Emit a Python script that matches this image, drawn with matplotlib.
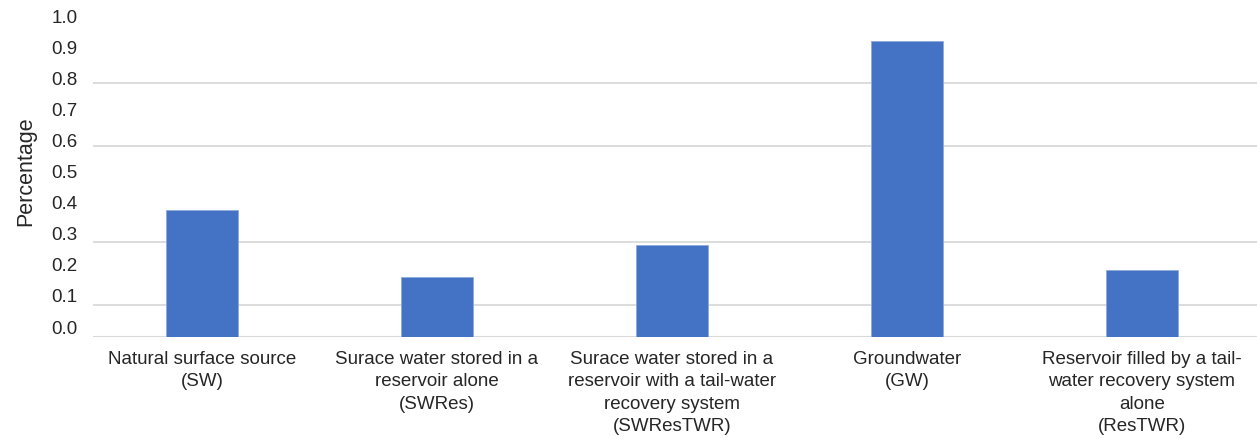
import numpy as np
import matplotlib
matplotlib.use('Agg')
from matplotlib import pyplot as plt

plt.rcParams['font.family'] = ['Liberation Sans', 'DejaVu Sans']

###### Data
categories = ['Natural surface source\n(SW)',
              'Surace water stored in a\nreservoir alone\n(SWRes)',
              'Surace water stored in a\nreservoir with a tail-water\nrecovery system\n(SWResTWR)',
              'Groundwater\n(GW)',
              'Reservoir filled by a tail-\nwater recovery system\nalone\n(ResTWR)']
values = [0.40, 0.19, 0.29, 0.93, 0.21]
grid_levels = [0.1, 0.3, 0.6, 0.8]
tick_values = np.round(np.arange(0, 1.01, 0.1), 1)
tick_labels = ['%.1f' % t for t in tick_values]

W, H, DPI = 1257, 438, 100
bar_color = '#4472C4'
text_color = '#262626'

fig = plt.figure(figsize=(W / DPI, H / DPI), dpi=DPI)
left, right, top, bottom = 93, 1257, 5, 337
ax = fig.add_axes([left / W, 1 - bottom / H, (right - left) / W, (bottom - top) / H])

x = np.arange(len(categories))
ax.bar(x, values, width=0.31, color=bar_color, edgecolor='#8EAADB', linewidth=0.6, zorder=3)

for g in grid_levels:
    ax.axhline(g, color='#D9D9D9', linewidth=1.3, zorder=1)
ax.axhline(0, color='#D9D9D9', linewidth=1.5, zorder=2)

ax.set_xlim((left - 202) / 235, (right - 202) / 235)
ax.set_ylim(0, (bottom - top) / 318)
ax.set_xticks(x)
ax.set_xticklabels(categories, fontsize=13.5, color=text_color, linespacing=1.42, va='top')
ax.tick_params(axis='x', length=0, pad=10)
ax.set_yticks([])
for s in ax.spines.values():
    s.set_visible(False)

###### Tick labels on their own left axis
ax2 = ax.twinx()
ax2.yaxis.tick_left()
ax2.yaxis.set_label_position('left')
ax2.set_ylim(-(bottom - 327) / 311, (327 - top) / 311)
ax2.set_yticks(tick_values)
ax2.set_yticklabels(tick_labels, fontsize=13.5, color=text_color)
ax2.tick_params(axis='y', length=0, pad=11)
ax2.set_ylabel('Percentage', fontsize=15.5, color=text_color, labelpad=11)
for s in ax2.spines.values():
    s.set_visible(False)

fig.savefig('out.png', dpi=DPI)
